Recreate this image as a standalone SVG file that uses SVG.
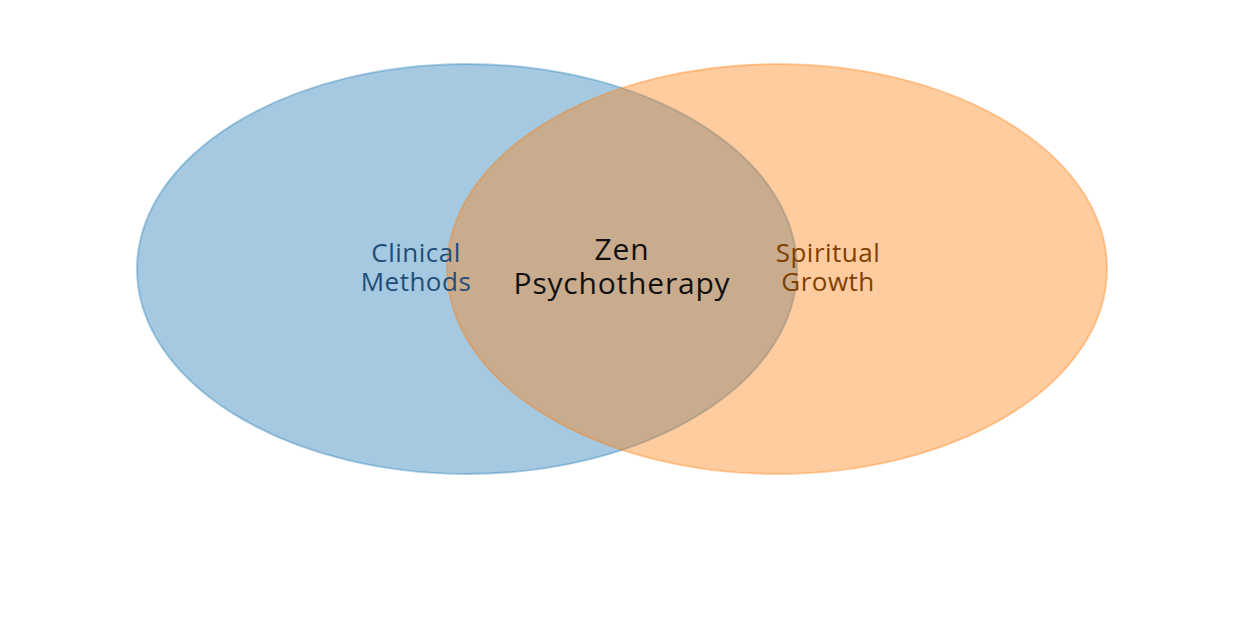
<svg xmlns="http://www.w3.org/2000/svg" width="1240" height="620" viewBox="0 0 1240 620">
<style>
.set{stroke-width:2}
.lbl{font-family:"Open Sans","Liberation Sans",sans-serif;text-anchor:middle}
.side{font-size:26px;letter-spacing:0.5px}
.mid{font-size:30px;letter-spacing:0.8px;fill:#111111}
</style>
<rect width="1240" height="620" fill="#ffffff"/>
<g id="clinical">
<ellipse class="set" cx="467" cy="269" rx="330" ry="205" fill="#1f77b4" fill-opacity="0.4" stroke="#1f77b4" stroke-opacity="0.35"/>
</g>
<g id="spiritual">
<ellipse class="set" cx="777" cy="269" rx="330" ry="205" fill="#ff7f0e" fill-opacity="0.4" stroke="#ff7f0e" stroke-opacity="0.35"/>
</g>
<g id="labels">
<text class="lbl side" x="416" y="262" fill="#1f4e79">Clinical</text>
<text class="lbl side" x="416" y="291" fill="#1f4e79">Methods</text>
<text class="lbl mid" x="622" y="260">Zen</text>
<text class="lbl mid" x="622" y="294">Psychotherapy</text>
<text class="lbl side" x="828" y="262" fill="#7f3f00">Spiritual</text>
<text class="lbl side" x="828" y="291" fill="#7f3f00">Growth</text>
</g>
</svg>
